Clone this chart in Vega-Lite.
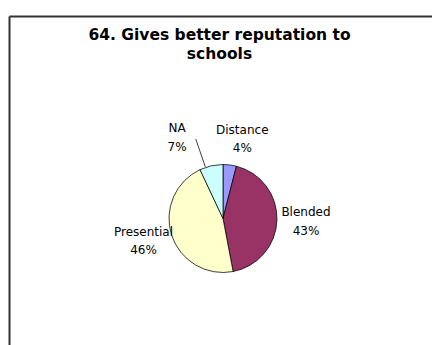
{
  "$schema": "https://vega.github.io/schema/vega-lite/v6.json",
  "width": 423,
  "height": 329,
  "autosize": {"type": "none"},
  "padding": {"left": 9, "top": 16, "right": 0, "bottom": 0},
  "background": "white",
  "view": {"stroke": null, "fill": "white"},
  "title": {
    "text": ["64. Gives better reputation to", "schools"],
    "font": "DejaVu Sans",
    "fontSize": 15.5,
    "fontWeight": "bold",
    "color": "black",
    "anchor": "middle",
    "frame": "group",
    "offset": -49,
    "lineHeight": 19,
    "dx": -1
  },
  "data": {
    "values": [
      {"cat": "Distance", "pct": 4, "ord": 1, "label": "Distance\n4%"},
      {"cat": "Blended", "pct": 43, "ord": 2, "label": "Blended\n43%"},
      {"cat": "Presential", "pct": 46, "ord": 3, "label": "Presential\n46%"},
      {"cat": "NA", "pct": 7, "ord": 4, "label": "NA\n7%"}
    ]
  },
  "layer": [
    {
      "mark": {"type": "point", "opacity": 0},
      "encoding": {
        "x": {"field": "pct", "type": "quantitative", "axis": {"orient": "top", "labels": false, "ticks": false, "title": null, "grid": false, "domainColor": "#333333", "domainWidth": 2}},
        "y": {"field": "ord", "type": "quantitative", "axis": {"orient": "left", "labels": false, "ticks": false, "title": null, "grid": false, "domainColor": "#333333", "domainWidth": 2}}
      }
    },
    {
      "mark": {"type": "arc", "outerRadius": 54, "xOffset": 2.5, "yOffset": 38, "stroke": "black", "strokeWidth": 0.75},
      "encoding": {
        "theta": {"field": "pct", "type": "quantitative", "stack": true},
        "order": {"field": "ord", "type": "quantitative"},
        "color": {
          "field": "cat",
          "type": "nominal",
          "scale": {
            "domain": ["Distance", "Blended", "Presential", "NA"],
            "range": ["#9999FF", "#993366", "#FFFFCC", "#CCFFFF"]
          },
          "legend": null
        }
      }
    },
    {
      "mark": {
        "type": "arc",
        "outerRadius": 84,
        "innerRadius": 54,
        "xOffset": 2.5,
        "yOffset": 38,
        "thetaOffset": -0.33,
        "fill": "transparent",
        "fillOpacity": 0,
        "stroke": "black",
        "strokeWidth": 0.75,
        "strokeDash": [0.01, 91.1, 40, 300]
      },
      "encoding": {
        "theta": {"field": "pct", "type": "quantitative", "stack": true},
        "order": {"field": "ord", "type": "quantitative"},
        "strokeOpacity": {"condition": {"test": "datum.cat === 'NA'", "value": 1}, "value": 0}
      }
    },
    {
      "mark": {"type": "text", "radius": 82, "xOffset": 2.5, "yOffset": 38, "dx": 9, "dy": -7.6, "font": "DejaVu Sans", "fontSize": 12, "lineBreak": "\n", "lineHeight": 18.5, "baseline": "middle", "align": "center", "color": "black"},
      "encoding": {
        "theta": {"field": "pct", "type": "quantitative", "stack": true},
        "order": {"field": "ord", "type": "quantitative"},
        "text": {"field": "label", "type": "nominal"},
        "opacity": {"condition": {"test": "datum.cat === 'Distance'", "value": 1}, "value": 0}
      }
    },
    {
      "mark": {"type": "text", "radius": 82, "xOffset": 2.5, "yOffset": 38, "dx": 1, "dy": -9, "font": "DejaVu Sans", "fontSize": 12, "lineBreak": "\n", "lineHeight": 18.5, "baseline": "middle", "align": "center", "color": "black"},
      "encoding": {
        "theta": {"field": "pct", "type": "quantitative", "stack": true},
        "order": {"field": "ord", "type": "quantitative"},
        "text": {"field": "label", "type": "nominal"},
        "opacity": {"condition": {"test": "datum.cat === 'Blended'", "value": 1}, "value": 0}
      }
    },
    {
      "mark": {"type": "text", "radius": 82, "xOffset": 2.5, "yOffset": 38, "dx": -1.5, "dy": -12, "font": "DejaVu Sans", "fontSize": 12, "lineBreak": "\n", "lineHeight": 18.5, "baseline": "middle", "align": "center", "color": "black"},
      "encoding": {
        "theta": {"field": "pct", "type": "quantitative", "stack": true},
        "order": {"field": "ord", "type": "quantitative"},
        "text": {"field": "label", "type": "nominal"},
        "opacity": {"condition": {"test": "datum.cat === 'Presential'", "value": 1}, "value": 0}
      }
    },
    {
      "mark": {"type": "text", "radius": 82, "xOffset": 2.5, "yOffset": 38, "dx": -28, "dy": -10.2, "font": "DejaVu Sans", "fontSize": 12, "lineBreak": "\n", "lineHeight": 18.5, "baseline": "middle", "align": "center", "color": "black"},
      "encoding": {
        "theta": {"field": "pct", "type": "quantitative", "stack": true},
        "order": {"field": "ord", "type": "quantitative"},
        "text": {"field": "label", "type": "nominal"},
        "opacity": {"condition": {"test": "datum.cat === 'NA'", "value": 1}, "value": 0}
      }
    }
  ]
}
